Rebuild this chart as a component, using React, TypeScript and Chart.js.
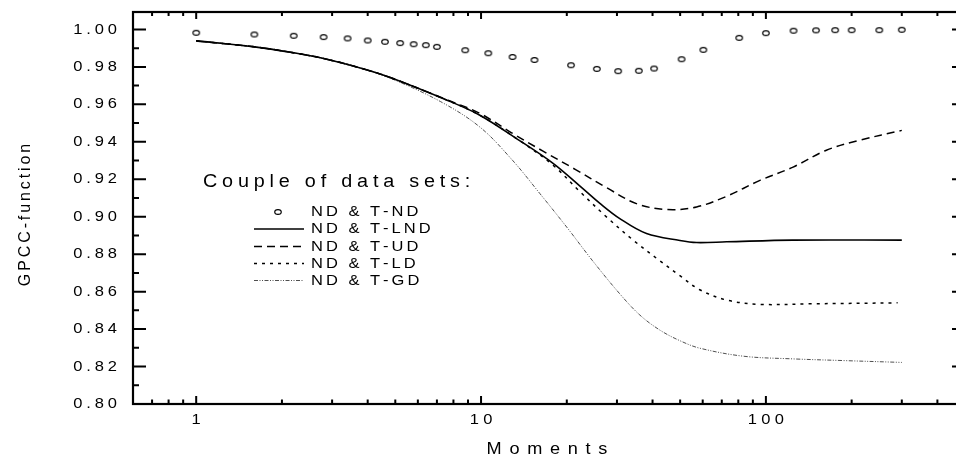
import React, { useEffect, useRef } from 'react';
import { Chart, registerables } from 'chart.js';

Chart.register(...registerables);

// ---------- data ----------
const momentsND = [1, 1.6, 2.2, 2.8, 3.4, 4, 4.6, 5.2, 5.8, 6.4, 7, 8.8, 10.6, 12.9, 15.4, 20.7, 25.5, 30.3, 35.8, 40.5, 50.6, 60.3, 80.6, 100, 125, 150, 175, 200, 250, 300];
const gpccND = [0.9982, 0.9973, 0.9966, 0.9959, 0.9952, 0.9941, 0.9934, 0.9927, 0.9921, 0.9916, 0.9907, 0.9889, 0.9873, 0.9853, 0.9837, 0.9809, 0.9789, 0.9777, 0.9779, 0.9791, 0.9841, 0.9891, 0.9955, 0.998, 0.9993, 0.9995, 0.9996, 0.9996, 0.9996, 0.9998];

const momentsLND = [1, 1.6, 2.2, 2.8, 3.85, 4.8, 7.6, 9.9, 13.7, 17.9, 22.2, 26.2, 30.7, 38.1, 49.9, 57.1, 72.8, 124, 300];
const gpccLND = [0.9939, 0.9907, 0.9875, 0.9845, 0.979, 0.9743, 0.9622, 0.9542, 0.9405, 0.9285, 0.9165, 0.907, 0.899, 0.891, 0.8873, 0.8862, 0.8866, 0.8875, 0.8875];

const momentsUD = [1, 1.6, 2.2, 2.8, 3.85, 4.8, 7.6, 9.9, 12.8, 16.5, 21.4, 27.6, 35.1, 45, 57.1, 72.8, 95.3, 124.6, 163, 213, 300];
const gpccUD = [0.9939, 0.9907, 0.9875, 0.9845, 0.979, 0.9743, 0.9624, 0.9552, 0.9448, 0.935, 0.9253, 0.9155, 0.907, 0.9038, 0.9052, 0.9109, 0.9194, 0.9265, 0.9355, 0.9408, 0.9461];

const momentsLD = [1, 1.6, 2.2, 2.8, 3.85, 4.8, 7.6, 9.9, 13.7, 17.9, 22.2, 27.6, 34.2, 42.4, 49.9, 58.6, 72.8, 95.3, 143, 290];
const gpccLD = [0.9939, 0.9907, 0.9875, 0.9845, 0.979, 0.9743, 0.9622, 0.9542, 0.9405, 0.9275, 0.9135, 0.8998, 0.8875, 0.8765, 0.8685, 0.861, 0.8555, 0.8532, 0.8535, 0.854];

const momentsGD = [1, 1.6, 2.2, 2.8, 3.85, 4.8, 7.2, 9.9, 12.9, 16.1, 20, 24.6, 30.7, 36.1, 42.4, 49.9, 58.6, 83.6, 124, 186, 300];
const gpccGD = [0.9939, 0.9907, 0.9875, 0.9845, 0.979, 0.974, 0.9615, 0.9479, 0.9301, 0.9123, 0.8944, 0.8766, 0.8588, 0.8475, 0.8395, 0.8338, 0.8298, 0.8255, 0.8241, 0.8232, 0.8222];

const seriesLabels = ['ND & T-ND', 'ND & T-LND', 'ND & T-UD', 'ND & T-LD', 'ND & T-GD'];
const legendTitle = 'Couple of data sets:';
const xTitle = 'Moments';
const yTitle = 'GPCC-function';

const yMajorTicks = [0.8, 0.82, 0.84, 0.86, 0.88, 0.9, 0.92, 0.94, 0.96, 0.98, 1.0];
const yMinorTicks = [0.81, 0.83, 0.85, 0.87, 0.89, 0.91, 0.93, 0.95, 0.97, 0.99];
const xMajorTicks = [1, 10, 100];
const xMinorTicks = [0.7, 0.8, 0.9, 2, 3, 4, 5, 6, 7, 8, 9, 20, 30, 40, 50, 60, 70, 80, 90, 200, 300, 400];

const X_MIN = 0.6;
const X_MAX = 500;
const Y_MIN = 0.8;
const Y_MAX = 1.0093;

const FONT = '"Liberation Sans", Arial, Helvetica, sans-serif';

function makeEllipse(): HTMLCanvasElement {
  const c = document.createElement('canvas');
  c.width = 10;
  c.height = 8;
  const g = c.getContext('2d')!;
  g.strokeStyle = '#000';
  g.lineWidth = 1.1;
  g.beginPath();
  g.ellipse(5, 4, 3.3, 2.4, 0, 0, Math.PI * 2);
  g.stroke();
  return c;
}

function drawSpaced(
  ctx: CanvasRenderingContext2D,
  text: string,
  x: number,
  y: number,
  size: number,
  spacing: number,
  align: 'left' | 'center' | 'right',
  sx = 1,
  rotate = 0
) {
  ctx.save();
  ctx.font = `${size}px ${FONT}`;
  ctx.textBaseline = 'middle';
  ctx.textAlign = 'left';
  ctx.fillStyle = '#000';
  const chars = Array.from(text);
  const widths = chars.map((c) => ctx.measureText(c).width * sx);
  const total = widths.reduce((a, b) => a + b, 0) + spacing * (chars.length - 1);
  const start = align === 'left' ? 0 : align === 'center' ? -total / 2 : -total;
  ctx.translate(x, y);
  if (rotate) ctx.rotate(rotate);
  let cx = start;
  chars.forEach((c, i) => {
    ctx.save();
    ctx.translate(cx, 0);
    ctx.scale(sx, 1);
    ctx.fillText(c, 0, 0);
    ctx.restore();
    cx += widths[i] + spacing;
  });
  ctx.restore();
}

export default function App() {
  const ref = useRef<HTMLCanvasElement>(null);

  useEffect(() => {
    if (!ref.current) return;
    const ellipse = makeEllipse();
    const toPts = (xs: number[], ys: number[]) => xs.map((x, i) => ({ x, y: ys[i] }));

    const lineStyles = [
      { dash: [] as number[], width: 1.6, color: '#000' },
      { dash: [8, 5], width: 1.5, color: '#000' },
      { dash: [3, 5], width: 1.5, color: '#000' },
      { dash: [4, 1.5, 1, 1.5, 1, 1.5], width: 0.8, color: '#222' },
    ];

    const framePlugin = {
      id: 'frame',
      beforeDraw(chart: any) {
        const ctx = chart.ctx;
        ctx.save();
        ctx.fillStyle = '#fff';
        ctx.fillRect(0, 0, chart.width, chart.height);
        ctx.restore();
      },
      afterDatasetsDraw(chart: any) {
        const ctx: CanvasRenderingContext2D = chart.ctx;
        const { left, right, top, bottom } = chart.chartArea;
        const xs = chart.scales.x;
        const ys = chart.scales.y;
        ctx.save();
        ctx.strokeStyle = '#000';
        ctx.lineCap = 'butt';
        ctx.lineWidth = 2.2;
        ctx.strokeRect(left, top, right - left, bottom - top);
        const yTick = (v: number, len: number) => {
          const p = ys.getPixelForValue(v);
          ctx.beginPath();
          ctx.moveTo(left, p);
          ctx.lineTo(left + len, p);
          ctx.moveTo(right, p);
          ctx.lineTo(right - len, p);
          ctx.stroke();
        };
        ctx.lineWidth = 2;
        yMajorTicks.forEach((v) => yTick(v, 13));
        yMinorTicks.forEach((v) => yTick(v, 6));
        const xTick = (v: number, lenB: number, lenT: number) => {
          const p = xs.getPixelForValue(v);
          ctx.beginPath();
          ctx.moveTo(p, bottom);
          ctx.lineTo(p, bottom - lenB);
          ctx.moveTo(p, top);
          ctx.lineTo(p, top + lenT);
          ctx.stroke();
        };
        xMajorTicks.forEach((v) => xTick(v, 8, 7));
        xMinorTicks.forEach((v) => xTick(v, 4.5, 4));
        ctx.restore();

        yMajorTicks.forEach((v) => {
          drawSpaced(ctx, v.toFixed(2), left - 16, ys.getPixelForValue(v), 15, 3.9, 'right', 1.1);
        });
        xMajorTicks.forEach((v) => {
          drawSpaced(ctx, String(v), xs.getPixelForValue(v), bottom + 16, 15, 4.3, 'center', 1.1);
        });
        drawSpaced(ctx, xTitle, (left + right) / 2 - 2, bottom + 45, 16.5, 7.7, 'center', 1.1);
        drawSpaced(ctx, yTitle, 26, (top + bottom) / 2 + 7, 16, 2.9, 'center', 1, -Math.PI / 2);

        drawSpaced(ctx, legendTitle, 203, 182, 18, 4.8, 'left', 1.1);
        const rowY = [211.7, 229, 246.5, 263.5, 280.5];
        const textX = 311;
        const sampleL = 254;
        const sampleR = 304;
        ctx.drawImage(ellipse, 278 - 5, Math.round(rowY[0]) - 4);
        lineStyles.forEach((s, i) => {
          ctx.save();
          ctx.strokeStyle = s.color;
          ctx.lineWidth = s.width;
          ctx.setLineDash(s.dash);
          ctx.beginPath();
          ctx.moveTo(sampleL, rowY[i + 1]);
          ctx.lineTo(sampleR, rowY[i + 1]);
          ctx.stroke();
          ctx.restore();
        });
        seriesLabels.forEach((t, i) => {
          drawSpaced(ctx, t, textX, rowY[i], 15, 3, 'left', 1.1);
        });
      },
    };

    const chart = new Chart(ref.current, {
      type: 'scatter',
      data: {
        datasets: [
          {
            label: seriesLabels[0],
            data: toPts(momentsND, gpccND),
            showLine: false,
            pointStyle: ellipse as any,
            pointRadius: 3,
            borderColor: '#000',
            backgroundColor: 'transparent',
          },
          ...[
            [momentsLND, gpccLND],
            [momentsUD, gpccUD],
            [momentsLD, gpccLD],
            [momentsGD, gpccGD],
          ].map(([xs, ys], i) => ({
            label: seriesLabels[i + 1],
            data: toPts(xs, ys),
            showLine: true,
            pointRadius: 0,
            borderColor: lineStyles[i].color,
            borderWidth: lineStyles[i].width,
            borderDash: lineStyles[i].dash,
            tension: 0.35,
            fill: false,
          })),
        ],
      },
      options: {
        animation: false,
        responsive: false,
        devicePixelRatio: 1,
        events: [],
        layout: { padding: { top: 12, right: 15, left: 0, bottom: 0 }, autoPadding: false },
        plugins: { legend: { display: false }, tooltip: { enabled: false } },
        scales: {
          x: {
            type: 'logarithmic',
            min: X_MIN,
            max: X_MAX,
            grid: { display: false },
            border: { display: false },
            ticks: { display: false },
            afterFit: (s: any) => {
              s.height = 55;
            },
          },
          y: {
            type: 'linear',
            min: Y_MIN,
            max: Y_MAX,
            grid: { display: false },
            border: { display: false },
            ticks: { display: false },
            afterFit: (s: any) => {
              s.width = 133;
            },
          },
        },
      },
      plugins: [framePlugin],
    } as any);

    return () => chart.destroy();
  }, []);

  return (
    <div
      style={{
        position: 'fixed',
        left: 0,
        top: 0,
        width: 956,
        height: 459,
        overflow: 'hidden',
        background: '#fff',
      }}
    >
      <canvas ref={ref} width={980} height={459} style={{ display: 'block', width: 980, height: 459 }} />
    </div>
  );
}
